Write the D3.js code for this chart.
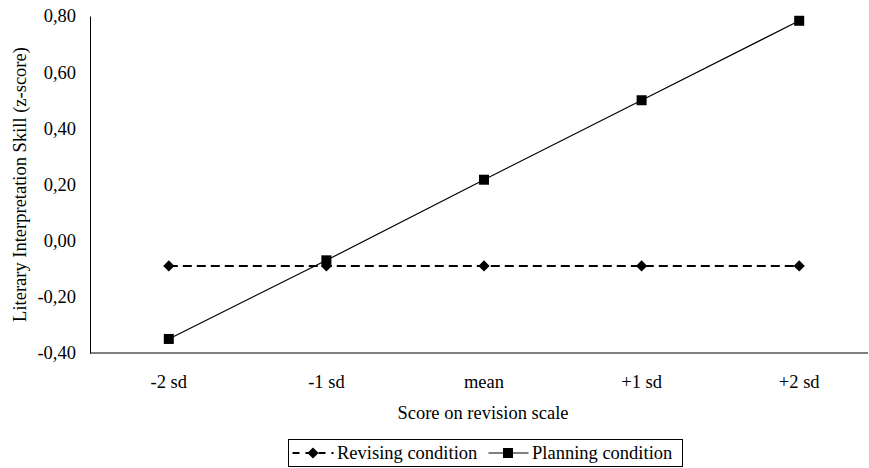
<!DOCTYPE html>
<html>
<head>
<meta charset="utf-8">
<script src="https://cdn.jsdelivr.net/npm/d3@7"></script>
<style>
  body { margin: 0; background: #fff; }
  svg { display: block; font-family: "Liberation Serif", "Times New Roman", serif; }
</style>
</head>
<body>
<svg id="chart" width="869" height="468"></svg>
<script>
const categories = ["-2 sd", "-1 sd", "mean", "+1 sd", "+2 sd"];
const revising = [-0.09, -0.09, -0.09, -0.09, -0.09];
const planning = [-0.35, -0.07, 0.217, 0.50, 0.783];
const yTicks = [-0.4, -0.2, 0, 0.2, 0.4, 0.6, 0.8];
const seriesNames = ["Revising condition", "Planning condition"];

const FS = 18.5;
const FF = "Liberation Serif";
const svg = d3.select("#chart");
const mLeft = 90, mRight = 878, mTop = 16, mBottom = 353;

const x = d3.scaleBand().domain(categories).range([mLeft, mRight]);
const y = d3.scaleLinear().domain([-0.4, 0.8]).range([mBottom, mTop]);
const fmt = v => d3.format(".2f")(v).replace(".", ",").replace("−", "-");

// y axis
const yAxis = d3.axisLeft(y).tickValues(yTicks).tickSize(0).tickPadding(14).tickFormat(fmt);
const gy = svg.append("g").attr("transform", `translate(${mLeft},0)`).call(yAxis)
  .attr("font-family", FF).attr("font-size", FS);
gy.select(".domain").attr("stroke", "#000").attr("stroke-width", 1);
gy.selectAll("text").attr("fill", "#000");

// x axis
const xAxis = d3.axisBottom(x).tickSize(0).tickPadding(22);
const gx = svg.append("g").attr("transform", `translate(0,${mBottom})`).call(xAxis)
  .attr("font-family", FF).attr("font-size", FS);
gx.select(".domain").remove();
gx.append("line").attr("x1", mLeft).attr("x2", 868).attr("y1", 0).attr("y2", 0).attr("stroke", "#000");
gx.selectAll("text").attr("fill", "#000");

// axis titles
svg.append("text").attr("x", (mLeft + mRight) / 2 - 1).attr("y", 419).attr("text-anchor", "middle")
  .attr("font-size", FS).attr("font-family", FF).text("Score on revision scale");
svg.append("text").attr("transform", `translate(26,${(mTop + mBottom) / 2}) rotate(-90)`)
  .attr("text-anchor", "middle").attr("font-size", FS).attr("font-family", FF)
  .text("Literary Interpretation Skill (z-score)");

const cx = c => x(c) + x.bandwidth() / 2;
const line = d3.line().x((d, i) => cx(categories[i])).y(d => y(d));

// revising: dashed line with diamonds
svg.append("path").datum(revising).attr("d", line).attr("fill", "none")
  .attr("stroke", "#000").attr("stroke-width", 2).attr("stroke-dasharray", "9,5");
const diamond = d3.symbol().type(d3.symbolDiamond2).size(80);
svg.selectAll(".dia").data(revising).enter().append("path")
  .attr("d", diamond).attr("transform", (d, i) => `translate(${cx(categories[i])},${y(d)})`).attr("fill", "#000");

// planning: solid line with squares
svg.append("path").datum(planning).attr("d", line).attr("fill", "none")
  .attr("stroke", "#000").attr("stroke-width", 1.2);
svg.selectAll(".sq").data(planning).enter().append("rect")
  .attr("x", (d, i) => cx(categories[i]) - 5).attr("y", d => y(d) - 5)
  .attr("width", 10).attr("height", 10).attr("fill", "#000");

// legend
const lg = svg.append("g").attr("font-family", FF).attr("font-size", FS);
const lx = 288.5, ly = 439.5, lw = 394, lh = 27;
lg.append("rect").attr("x", lx).attr("y", ly).attr("width", lw).attr("height", lh)
  .attr("fill", "none").attr("stroke", "#000").attr("stroke-width", 1);
const cyL = ly + lh / 2;
// revising sample
lg.append("line").attr("x1", lx + 4).attr("x2", lx + 45).attr("y1", cyL).attr("y2", cyL)
  .attr("stroke", "#000").attr("stroke-width", 2).attr("stroke-dasharray", "7,6");
lg.append("path").attr("d", diamond).attr("transform", `translate(${lx + 24.5},${cyL})`).attr("fill", "#000");
lg.append("text").attr("x", lx + 48.5).attr("y", cyL + 5.5).text(seriesNames[0]);
// planning sample
lg.append("line").attr("x1", lx + 200).attr("x2", lx + 240).attr("y1", cyL).attr("y2", cyL)
  .attr("stroke", "#000").attr("stroke-width", 1.2);
lg.append("rect").attr("x", lx + 214.5).attr("y", cyL - 5).attr("width", 10).attr("height", 10).attr("fill", "#000");
lg.append("text").attr("x", lx + 243.5).attr("y", cyL + 5.5).text(seriesNames[1]);
</script>
</body>
</html>
